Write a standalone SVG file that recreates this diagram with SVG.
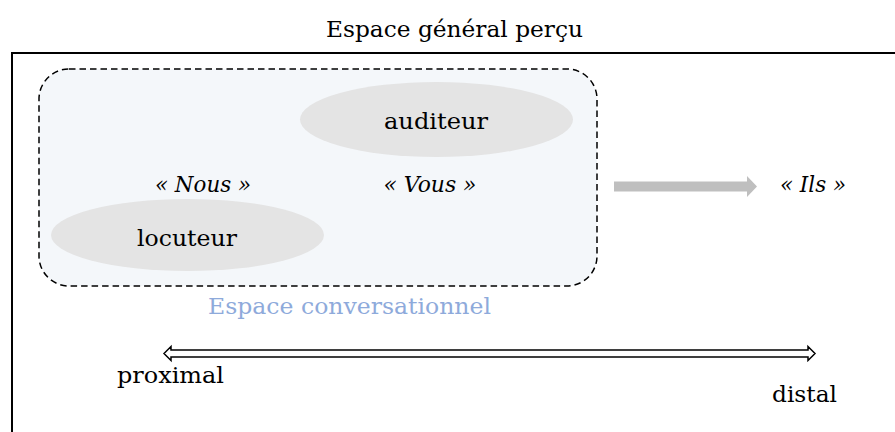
<svg xmlns="http://www.w3.org/2000/svg" width="895" height="432" viewBox="0 0 895 432">
  <style>
    .t { font-family: "DejaVu Serif", "Liberation Serif", serif; font-size: 22.5px; fill: #000; }
    .i { font-style: italic; }
    .conv { fill: #8EAADB; }
    .ell { fill: #E4E4E4; }
  </style>
  <rect width="895" height="432" fill="#fff"/>
  <g id="espace-general">
    <rect x="12" y="53" width="900" height="420" fill="none" stroke="#000" stroke-width="2"/>
    <text class="t" x="454.5" y="37" text-anchor="middle" textLength="257" lengthAdjust="spacingAndGlyphs">Espace général perçu</text>
  </g>
  <g id="espace-conversationnel">
    <rect x="39" y="69" width="558" height="217" rx="30" ry="30" fill="#F4F7FA" stroke="#000" stroke-width="1.5" stroke-dasharray="6.5 4"/>
    <text class="t conv" x="349.5" y="314" text-anchor="middle" textLength="283" lengthAdjust="spacingAndGlyphs">Espace conversationnel</text>
  </g>
  <g id="auditeur">
    <ellipse class="ell" cx="436.5" cy="119.5" rx="136.5" ry="37.5"/>
    <text class="t" x="436" y="129" text-anchor="middle" textLength="104" lengthAdjust="spacingAndGlyphs">auditeur</text>
  </g>
  <g id="locuteur">
    <ellipse class="ell" cx="187.5" cy="235" rx="136.5" ry="36"/>
    <text class="t" x="187" y="246" text-anchor="middle" textLength="100" lengthAdjust="spacingAndGlyphs">locuteur</text>
  </g>
  <g id="nous">
    <text class="t i" x="203" y="192" text-anchor="middle" textLength="96" lengthAdjust="spacingAndGlyphs">« Nous »</text>
  </g>
  <g id="vous">
    <text class="t i" x="430" y="192" text-anchor="middle" textLength="93" lengthAdjust="spacingAndGlyphs">« Vous »</text>
  </g>
  <g id="ils">
    <text class="t i" x="813" y="192" text-anchor="middle" textLength="66" lengthAdjust="spacingAndGlyphs">« Ils »</text>
  </g>
  <g id="proximal">
    <text class="t" x="170.5" y="383" text-anchor="middle" textLength="107" lengthAdjust="spacingAndGlyphs">proximal</text>
  </g>
  <g id="distal">
    <text class="t" x="804.5" y="402" text-anchor="middle" textLength="65" lengthAdjust="spacingAndGlyphs">distal</text>
  </g>
  <g id="connectors">
    <path d="M614 181.5 L747 181.5 L747 176 L757 186.5 L747 197 L747 191.5 L614 191.5 Z" fill="#BFBFBF"/>
    <path d="M164 353.5 L171 346.5 L171 350 L808 350 L808 346.5 L815 353.5 L808 360.5 L808 357 L171 357 L171 360.5 Z" fill="#fff" stroke="#000" stroke-width="1.5" stroke-linejoin="miter"/>
  </g>
</svg>
